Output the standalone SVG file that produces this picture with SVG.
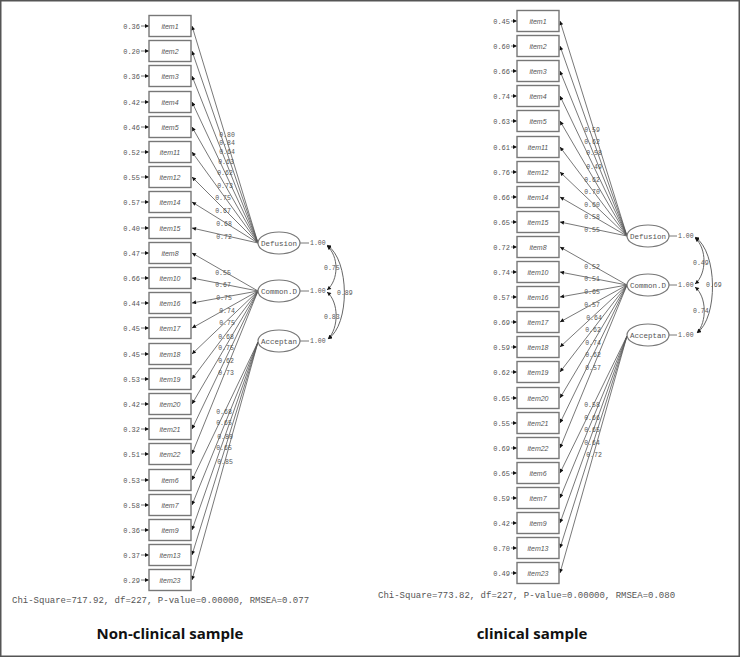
<svg xmlns="http://www.w3.org/2000/svg" width="740" height="657" viewBox="0 0 740 657">
<style>
.box{fill:#fff;stroke:#777;stroke-width:1.4}
.it{font-family:"Liberation Sans",Arial,sans-serif;font-style:italic;font-size:7px;fill:#555;text-anchor:middle}
.err{font-family:"Liberation Mono","Courier New",monospace;font-size:7px;fill:#555;text-anchor:end}
.ld{font-family:"Liberation Mono","Courier New",monospace;font-size:6.5px;fill:#555;text-anchor:middle}
.lv{font-family:"Liberation Mono","Courier New",monospace;font-size:7.5px;fill:#555;text-anchor:middle}
.one{font-family:"Liberation Mono","Courier New",monospace;font-size:6.5px;fill:#555}
.ell{fill:#fff;stroke:#777;stroke-width:1.2}
.ln{stroke:#555;stroke-width:0.8;fill:none;marker-end:url(#ah)}
.arc{stroke:#555;stroke-width:0.9;fill:none;marker-start:url(#ah);marker-end:url(#ah)}
.chi{font-family:"Liberation Mono","Courier New",monospace;font-size:9px;fill:#555}
.ttl{font-family:"Open Sans","Liberation Sans",sans-serif;font-weight:bold;font-size:15px;fill:#111;text-anchor:middle}
</style>
<defs>
<marker id="ah" viewBox="0 0 10 10" refX="10" refY="5" markerWidth="5" markerHeight="4" markerUnits="userSpaceOnUse" orient="auto-start-reverse">
<path d="M0,0 L10,5 L0,10 z" fill="#111"/>
</marker>
</defs>
<rect x="0.75" y="0.75" width="738.5" height="655.5" fill="#fff" stroke="#555" stroke-width="1.5"/>

<g id="connectors">
<!-- left loadings -->
<line class="ln" x1="258" y1="243" x2="192" y2="26"/>
<line class="ln" x1="258" y1="243" x2="192" y2="51"/>
<line class="ln" x1="258" y1="243" x2="192" y2="76"/>
<line class="ln" x1="258" y1="243" x2="192" y2="102"/>
<line class="ln" x1="258" y1="243" x2="192" y2="127"/>
<line class="ln" x1="258" y1="243" x2="192" y2="152"/>
<line class="ln" x1="258" y1="243" x2="192" y2="177"/>
<line class="ln" x1="258" y1="243" x2="192" y2="202"/>
<line class="ln" x1="258" y1="243" x2="192" y2="228"/>
<line class="ln" x1="258" y1="291" x2="192" y2="253"/>
<line class="ln" x1="258" y1="291" x2="192" y2="278"/>
<line class="ln" x1="258" y1="291" x2="192" y2="303"/>
<line class="ln" x1="258" y1="291" x2="192" y2="328"/>
<line class="ln" x1="258" y1="291" x2="192" y2="354"/>
<line class="ln" x1="258" y1="291" x2="192" y2="379"/>
<line class="ln" x1="258" y1="291" x2="192" y2="404"/>
<line class="ln" x1="258" y1="291" x2="192" y2="429"/>
<line class="ln" x1="258" y1="291" x2="192" y2="454"/>
<line class="ln" x1="258" y1="342" x2="192" y2="480"/>
<line class="ln" x1="258" y1="342" x2="192" y2="505"/>
<line class="ln" x1="258" y1="342" x2="192" y2="530"/>
<line class="ln" x1="258" y1="342" x2="192" y2="555"/>
<line class="ln" x1="258" y1="342" x2="192" y2="580"/>
<!-- left error arrows -->
<line class="ln" x1="141" y1="26" x2="149" y2="26"/>
<line class="ln" x1="141" y1="51" x2="149" y2="51"/>
<line class="ln" x1="141" y1="76" x2="149" y2="76"/>
<line class="ln" x1="141" y1="102" x2="149" y2="102"/>
<line class="ln" x1="141" y1="127" x2="149" y2="127"/>
<line class="ln" x1="141" y1="152" x2="149" y2="152"/>
<line class="ln" x1="141" y1="177" x2="149" y2="177"/>
<line class="ln" x1="141" y1="202" x2="149" y2="202"/>
<line class="ln" x1="141" y1="228" x2="149" y2="228"/>
<line class="ln" x1="141" y1="253" x2="149" y2="253"/>
<line class="ln" x1="141" y1="278" x2="149" y2="278"/>
<line class="ln" x1="141" y1="303" x2="149" y2="303"/>
<line class="ln" x1="141" y1="328" x2="149" y2="328"/>
<line class="ln" x1="141" y1="354" x2="149" y2="354"/>
<line class="ln" x1="141" y1="379" x2="149" y2="379"/>
<line class="ln" x1="141" y1="404" x2="149" y2="404"/>
<line class="ln" x1="141" y1="429" x2="149" y2="429"/>
<line class="ln" x1="141" y1="454" x2="149" y2="454"/>
<line class="ln" x1="141" y1="480" x2="149" y2="480"/>
<line class="ln" x1="141" y1="505" x2="149" y2="505"/>
<line class="ln" x1="141" y1="530" x2="149" y2="530"/>
<line class="ln" x1="141" y1="555" x2="149" y2="555"/>
<line class="ln" x1="141" y1="580" x2="149" y2="580"/>
<!-- left variances & covariances -->
<line x1="300" y1="243" x2="309" y2="243" stroke="#555" stroke-width="0.8"/>
<line x1="300" y1="291" x2="309" y2="291" stroke="#555" stroke-width="0.8"/>
<line x1="300" y1="341" x2="309" y2="341" stroke="#555" stroke-width="0.8"/>
<path class="arc" d="M327,246 C339,256 339,280 327,290"/>
<path class="arc" d="M327,292 C339,302 339,328 328,339"/>
<path class="arc" d="M327,245 C350,260 350,325 328,339"/>

<!-- right loadings -->
<line class="ln" x1="627" y1="236" x2="560" y2="21"/>
<line class="ln" x1="627" y1="236" x2="560" y2="46"/>
<line class="ln" x1="627" y1="236" x2="560" y2="71"/>
<line class="ln" x1="627" y1="236" x2="560" y2="96"/>
<line class="ln" x1="627" y1="236" x2="560" y2="121"/>
<line class="ln" x1="627" y1="236" x2="560" y2="147"/>
<line class="ln" x1="627" y1="236" x2="560" y2="172"/>
<line class="ln" x1="627" y1="236" x2="560" y2="197"/>
<line class="ln" x1="627" y1="236" x2="560" y2="222"/>
<line class="ln" x1="627" y1="285" x2="560" y2="247"/>
<line class="ln" x1="627" y1="285" x2="560" y2="272"/>
<line class="ln" x1="627" y1="285" x2="560" y2="297"/>
<line class="ln" x1="627" y1="285" x2="560" y2="322"/>
<line class="ln" x1="627" y1="285" x2="560" y2="347"/>
<line class="ln" x1="627" y1="285" x2="560" y2="372"/>
<line class="ln" x1="627" y1="285" x2="560" y2="398"/>
<line class="ln" x1="627" y1="285" x2="560" y2="423"/>
<line class="ln" x1="627" y1="285" x2="560" y2="448"/>
<line class="ln" x1="627" y1="336" x2="560" y2="473"/>
<line class="ln" x1="627" y1="336" x2="560" y2="498"/>
<line class="ln" x1="627" y1="336" x2="560" y2="523"/>
<line class="ln" x1="627" y1="336" x2="560" y2="548"/>
<line class="ln" x1="627" y1="336" x2="560" y2="573"/>
<!-- right error arrows -->
<line class="ln" x1="511" y1="21" x2="517" y2="21"/>
<line class="ln" x1="511" y1="46" x2="517" y2="46"/>
<line class="ln" x1="511" y1="71" x2="517" y2="71"/>
<line class="ln" x1="511" y1="96" x2="517" y2="96"/>
<line class="ln" x1="511" y1="121" x2="517" y2="121"/>
<line class="ln" x1="511" y1="147" x2="517" y2="147"/>
<line class="ln" x1="511" y1="172" x2="517" y2="172"/>
<line class="ln" x1="511" y1="197" x2="517" y2="197"/>
<line class="ln" x1="511" y1="222" x2="517" y2="222"/>
<line class="ln" x1="511" y1="247" x2="517" y2="247"/>
<line class="ln" x1="511" y1="272" x2="517" y2="272"/>
<line class="ln" x1="511" y1="297" x2="517" y2="297"/>
<line class="ln" x1="511" y1="322" x2="517" y2="322"/>
<line class="ln" x1="511" y1="347" x2="517" y2="347"/>
<line class="ln" x1="511" y1="372" x2="517" y2="372"/>
<line class="ln" x1="511" y1="398" x2="517" y2="398"/>
<line class="ln" x1="511" y1="423" x2="517" y2="423"/>
<line class="ln" x1="511" y1="448" x2="517" y2="448"/>
<line class="ln" x1="511" y1="473" x2="517" y2="473"/>
<line class="ln" x1="511" y1="498" x2="517" y2="498"/>
<line class="ln" x1="511" y1="523" x2="517" y2="523"/>
<line class="ln" x1="511" y1="548" x2="517" y2="548"/>
<line class="ln" x1="511" y1="573" x2="517" y2="573"/>
<!-- right variances & covariances -->
<line x1="669" y1="236" x2="677" y2="236" stroke="#555" stroke-width="0.8"/>
<line x1="669" y1="285" x2="677" y2="285" stroke="#555" stroke-width="0.8"/>
<line x1="669" y1="335" x2="677" y2="335" stroke="#555" stroke-width="0.8"/>
<path class="arc" d="M695,238 C707,248 707,274 695,284"/>
<path class="arc" d="M695,287 C707,297 707,322 697,333"/>
<path class="arc" d="M695,237 C718,252 718,318 697,333"/>
</g>

<!-- left loading labels -->
<g id="left-loadings">
<text class="ld" x="227" y="137">0.80</text>
<text class="ld" x="227" y="145">0.84</text>
<text class="ld" x="227" y="154">0.64</text>
<text class="ld" x="226" y="164">0.63</text>
<text class="ld" x="225" y="175">0.62</text>
<text class="ld" x="225" y="188">0.73</text>
<text class="ld" x="223" y="200">0.75</text>
<text class="ld" x="223" y="213">0.67</text>
<text class="ld" x="224" y="226">0.68</text>
<text class="ld" x="224" y="239">0.72</text>
<text class="ld" x="223" y="275">0.55</text>
<text class="ld" x="223" y="287">0.67</text>
<text class="ld" x="224" y="300">0.75</text>
<text class="ld" x="227" y="313">0.74</text>
<text class="ld" x="227" y="325">0.75</text>
<text class="ld" x="226" y="339">0.68</text>
<text class="ld" x="226" y="350">0.75</text>
<text class="ld" x="226" y="363">0.62</text>
<text class="ld" x="226" y="375">0.73</text>
<text class="ld" x="224" y="414">0.68</text>
<text class="ld" x="224" y="425">0.65</text>
<text class="ld" x="225" y="439">0.80</text>
<text class="ld" x="224" y="450">0.65</text>
<text class="ld" x="225" y="464">0.85</text>
</g>
<g id="right-loadings">
<text class="ld" x="592" y="132">0.59</text>
<text class="ld" x="592" y="144">0.62</text>
<text class="ld" x="594" y="155">0.58</text>
<text class="ld" x="594" y="169">0.49</text>
<text class="ld" x="592" y="182">0.62</text>
<text class="ld" x="592" y="194">0.70</text>
<text class="ld" x="592" y="207">0.60</text>
<text class="ld" x="592" y="219">0.58</text>
<text class="ld" x="592" y="232">0.55</text>
<text class="ld" x="592" y="269">0.52</text>
<text class="ld" x="592" y="281">0.51</text>
<text class="ld" x="592" y="294">0.65</text>
<text class="ld" x="592" y="307">0.57</text>
<text class="ld" x="594" y="320">0.64</text>
<text class="ld" x="593" y="332">0.62</text>
<text class="ld" x="593" y="345">0.74</text>
<text class="ld" x="593" y="357">0.62</text>
<text class="ld" x="593" y="370">0.57</text>
<text class="ld" x="592" y="407">0.58</text>
<text class="ld" x="592" y="420">0.66</text>
<text class="ld" x="592" y="432">0.65</text>
<text class="ld" x="592" y="445">0.64</text>
<text class="ld" x="594" y="457">0.72</text>
</g>

<!-- left latent variables -->
<g id="L-Defusion"><ellipse class="ell" cx="279" cy="243" rx="21" ry="11"/><text class="lv" x="279" y="245.5">Defusion</text><text class="one" x="310" y="245">1.00</text></g>
<g id="L-Common"><ellipse class="ell" cx="279" cy="291" rx="21" ry="11"/><text class="lv" x="279" y="293.5">Common.D</text><text class="one" x="310" y="293">1.00</text></g>
<g id="L-Acceptan"><ellipse class="ell" cx="279" cy="341" rx="21" ry="11"/><text class="lv" x="279" y="343.5">Acceptan</text><text class="one" x="310" y="343">1.00</text></g>
<g id="L-cov-labels">
<text class="one" x="324" y="270">0.75</text>
<text class="one" x="337" y="295">0.89</text>
<text class="one" x="324" y="319">0.83</text>
</g>

<!-- right latent variables -->
<g id="R-Defusion"><ellipse class="ell" cx="648" cy="236" rx="21" ry="11"/><text class="lv" x="648" y="238.5">Defusion</text><text class="one" x="678" y="238">1.00</text></g>
<g id="R-Common"><ellipse class="ell" cx="648" cy="285" rx="21" ry="11"/><text class="lv" x="648" y="287.5">Common.D</text><text class="one" x="678" y="287">1.00</text></g>
<g id="R-Acceptan"><ellipse class="ell" cx="648" cy="335" rx="21" ry="11"/><text class="lv" x="648" y="337.5">Acceptan</text><text class="one" x="678" y="337">1.00</text></g>
<g id="R-cov-labels">
<text class="one" x="693" y="265">0.49</text>
<text class="one" x="706" y="287">0.69</text>
<text class="one" x="693" y="313">0.74</text>
</g>

<!-- left items -->
<g id="L-item1"><rect class="box" x="149" y="15.5" width="42" height="21"/><text class="it" x="170" y="28.5">item1</text><text class="err" x="140" y="28.5">0.36</text></g>
<g id="L-item2"><rect class="box" x="149" y="40.5" width="42" height="21"/><text class="it" x="170" y="53.5">item2</text><text class="err" x="140" y="53.5">0.20</text></g>
<g id="L-item3"><rect class="box" x="149" y="65.5" width="42" height="21"/><text class="it" x="170" y="78.5">item3</text><text class="err" x="140" y="78.5">0.36</text></g>
<g id="L-item4"><rect class="box" x="149" y="91.5" width="42" height="21"/><text class="it" x="170" y="104.5">item4</text><text class="err" x="140" y="104.5">0.42</text></g>
<g id="L-item5"><rect class="box" x="149" y="116.5" width="42" height="21"/><text class="it" x="170" y="129.5">item5</text><text class="err" x="140" y="129.5">0.46</text></g>
<g id="L-item11"><rect class="box" x="149" y="141.5" width="42" height="21"/><text class="it" x="170" y="154.5">item11</text><text class="err" x="140" y="154.5">0.52</text></g>
<g id="L-item12"><rect class="box" x="149" y="166.5" width="42" height="21"/><text class="it" x="170" y="179.5">item12</text><text class="err" x="140" y="179.5">0.55</text></g>
<g id="L-item14"><rect class="box" x="149" y="191.5" width="42" height="21"/><text class="it" x="170" y="204.5">item14</text><text class="err" x="140" y="204.5">0.57</text></g>
<g id="L-item15"><rect class="box" x="149" y="217.5" width="42" height="21"/><text class="it" x="170" y="230.5">item15</text><text class="err" x="140" y="230.5">0.40</text></g>
<g id="L-item8"><rect class="box" x="149" y="242.5" width="42" height="21"/><text class="it" x="170" y="255.5">item8</text><text class="err" x="140" y="255.5">0.47</text></g>
<g id="L-item10"><rect class="box" x="149" y="267.5" width="42" height="21"/><text class="it" x="170" y="280.5">item10</text><text class="err" x="140" y="280.5">0.66</text></g>
<g id="L-item16"><rect class="box" x="149" y="292.5" width="42" height="21"/><text class="it" x="170" y="305.5">item16</text><text class="err" x="140" y="305.5">0.44</text></g>
<g id="L-item17"><rect class="box" x="149" y="317.5" width="42" height="21"/><text class="it" x="170" y="330.5">item17</text><text class="err" x="140" y="330.5">0.45</text></g>
<g id="L-item18"><rect class="box" x="149" y="343.5" width="42" height="21"/><text class="it" x="170" y="356.5">item18</text><text class="err" x="140" y="356.5">0.45</text></g>
<g id="L-item19"><rect class="box" x="149" y="368.5" width="42" height="21"/><text class="it" x="170" y="381.5">item19</text><text class="err" x="140" y="381.5">0.53</text></g>
<g id="L-item20"><rect class="box" x="149" y="393.5" width="42" height="21"/><text class="it" x="170" y="406.5">item20</text><text class="err" x="140" y="406.5">0.42</text></g>
<g id="L-item21"><rect class="box" x="149" y="418.5" width="42" height="21"/><text class="it" x="170" y="431.5">item21</text><text class="err" x="140" y="431.5">0.32</text></g>
<g id="L-item22"><rect class="box" x="149" y="443.5" width="42" height="21"/><text class="it" x="170" y="456.5">item22</text><text class="err" x="140" y="456.5">0.51</text></g>
<g id="L-item6"><rect class="box" x="149" y="469.5" width="42" height="21"/><text class="it" x="170" y="482.5">item6</text><text class="err" x="140" y="482.5">0.53</text></g>
<g id="L-item7"><rect class="box" x="149" y="494.5" width="42" height="21"/><text class="it" x="170" y="507.5">item7</text><text class="err" x="140" y="507.5">0.58</text></g>
<g id="L-item9"><rect class="box" x="149" y="519.5" width="42" height="21"/><text class="it" x="170" y="532.5">item9</text><text class="err" x="140" y="532.5">0.36</text></g>
<g id="L-item13"><rect class="box" x="149" y="544.5" width="42" height="21"/><text class="it" x="170" y="557.5">item13</text><text class="err" x="140" y="557.5">0.37</text></g>
<g id="L-item23"><rect class="box" x="149" y="569.5" width="42" height="21"/><text class="it" x="170" y="582.5">item23</text><text class="err" x="140" y="582.5">0.29</text></g>

<!-- right items -->
<g id="R-item1"><rect class="box" x="517" y="10.5" width="42" height="21"/><text class="it" x="538" y="23.5">item1</text><text class="err" x="510" y="23.5">0.45</text></g>
<g id="R-item2"><rect class="box" x="517" y="35.5" width="42" height="21"/><text class="it" x="538" y="48.5">item2</text><text class="err" x="510" y="48.5">0.60</text></g>
<g id="R-item3"><rect class="box" x="517" y="60.5" width="42" height="21"/><text class="it" x="538" y="73.5">item3</text><text class="err" x="510" y="73.5">0.66</text></g>
<g id="R-item4"><rect class="box" x="517" y="85.5" width="42" height="21"/><text class="it" x="538" y="98.5">item4</text><text class="err" x="510" y="98.5">0.74</text></g>
<g id="R-item5"><rect class="box" x="517" y="110.5" width="42" height="21"/><text class="it" x="538" y="123.5">item5</text><text class="err" x="510" y="123.5">0.63</text></g>
<g id="R-item11"><rect class="box" x="517" y="136.5" width="42" height="21"/><text class="it" x="538" y="149.5">item11</text><text class="err" x="510" y="149.5">0.61</text></g>
<g id="R-item12"><rect class="box" x="517" y="161.5" width="42" height="21"/><text class="it" x="538" y="174.5">item12</text><text class="err" x="510" y="174.5">0.76</text></g>
<g id="R-item14"><rect class="box" x="517" y="186.5" width="42" height="21"/><text class="it" x="538" y="199.5">item14</text><text class="err" x="510" y="199.5">0.66</text></g>
<g id="R-item15"><rect class="box" x="517" y="211.5" width="42" height="21"/><text class="it" x="538" y="224.5">item15</text><text class="err" x="510" y="224.5">0.65</text></g>
<g id="R-item8"><rect class="box" x="517" y="236.5" width="42" height="21"/><text class="it" x="538" y="249.5">item8</text><text class="err" x="510" y="249.5">0.72</text></g>
<g id="R-item10"><rect class="box" x="517" y="261.5" width="42" height="21"/><text class="it" x="538" y="274.5">item10</text><text class="err" x="510" y="274.5">0.74</text></g>
<g id="R-item16"><rect class="box" x="517" y="286.5" width="42" height="21"/><text class="it" x="538" y="299.5">item16</text><text class="err" x="510" y="299.5">0.57</text></g>
<g id="R-item17"><rect class="box" x="517" y="311.5" width="42" height="21"/><text class="it" x="538" y="324.5">item17</text><text class="err" x="510" y="324.5">0.69</text></g>
<g id="R-item18"><rect class="box" x="517" y="336.5" width="42" height="21"/><text class="it" x="538" y="349.5">item18</text><text class="err" x="510" y="349.5">0.59</text></g>
<g id="R-item19"><rect class="box" x="517" y="361.5" width="42" height="21"/><text class="it" x="538" y="374.5">item19</text><text class="err" x="510" y="374.5">0.62</text></g>
<g id="R-item20"><rect class="box" x="517" y="387.5" width="42" height="21"/><text class="it" x="538" y="400.5">item20</text><text class="err" x="510" y="400.5">0.65</text></g>
<g id="R-item21"><rect class="box" x="517" y="412.5" width="42" height="21"/><text class="it" x="538" y="425.5">item21</text><text class="err" x="510" y="425.5">0.55</text></g>
<g id="R-item22"><rect class="box" x="517" y="437.5" width="42" height="21"/><text class="it" x="538" y="450.5">item22</text><text class="err" x="510" y="450.5">0.69</text></g>
<g id="R-item6"><rect class="box" x="517" y="462.5" width="42" height="21"/><text class="it" x="538" y="475.5">item6</text><text class="err" x="510" y="475.5">0.65</text></g>
<g id="R-item7"><rect class="box" x="517" y="487.5" width="42" height="21"/><text class="it" x="538" y="500.5">item7</text><text class="err" x="510" y="500.5">0.59</text></g>
<g id="R-item9"><rect class="box" x="517" y="512.5" width="42" height="21"/><text class="it" x="538" y="525.5">item9</text><text class="err" x="510" y="525.5">0.42</text></g>
<g id="R-item13"><rect class="box" x="517" y="537.5" width="42" height="21"/><text class="it" x="538" y="550.5">item13</text><text class="err" x="510" y="550.5">0.70</text></g>
<g id="R-item23"><rect class="box" x="517" y="562.5" width="42" height="21"/><text class="it" x="538" y="575.5">item23</text><text class="err" x="510" y="575.5">0.49</text></g>

<text class="chi" x="12" y="603">Chi-Square=717.92, df=227, P-value=0.00000, RMSEA=0.077</text>
<text class="chi" x="378" y="598">Chi-Square=773.82, df=227, P-value=0.00000, RMSEA=0.080</text>
<text class="ttl" x="170" y="639">Non-clinical sample</text>
<text class="ttl" x="532" y="639">clinical sample</text>
</svg>
